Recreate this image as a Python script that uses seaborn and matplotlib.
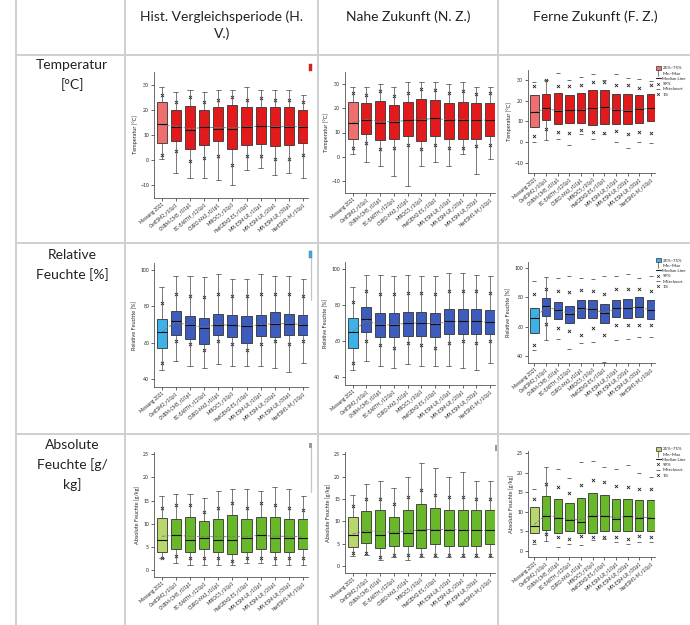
import matplotlib
matplotlib.use("Agg")
import matplotlib.pyplot as plt
import numpy as np
import seaborn as sns
from matplotlib.lines import Line2D
from matplotlib.patches import Patch, Rectangle

W, H = 690, 625

model_labels = ["Messung 2021", "CanESM2_r1i1p1", "CNRM-CM5_r1i1p1", "EC-EARTH_r12i1p1",
                "CSIRO-Mk3_r1i1p1", "MIROC5_r1i1p1", "HadGEM2-ES_r1i1p1", "MPI-ESM-LR_r1i1p1",
                "MPI-ESM-LR_r2i1p1", "MPI-ESM-LR_r3i1p1", "NorESM1-M_r1i1p1"]
period_titles = ["Hist. Vergleichsperiode (H.\nV.)", "Nahe Zukunft (N. Z.)", "Ferne Zukunft (F. Z.)"]
row_titles = ["Temperatur\n[°C]", "Relative\nFeuchte [%]", "Absolute\nFeuchte [g/\nkg]"]
y_labels = ["Temperatur [°C]", "Relative Feuchte [%]", "Absolute Feuchte [g/kg]"]
legend_labels = ["25%~75%", "Min~Max", "Median Line", "99%", "Mittelwert", "1%"]

# ---- Temperatur ----
temp_hv = dict(
    lo=[0.5, -5, -7, -7, -8, -10, -4, -3, -6, -5, -7],
    p1=[2, 3.5, -0.5, 1, 1.5, -2, 1.5, 1.5, 0.5, 0.5, 2],
    q1=[7, 7.5, 4.5, 6, 7.5, 4.5, 6, 6.5, 5.5, 6, 7],
    med=[14.5, 13, 12, 13, 12.5, 12.5, 13, 13.5, 13, 13, 13],
    mean=[14, 13.5, 12.5, 13, 13, 12.8, 13.2, 13.5, 13.3, 13.3, 13.3],
    q3=[23, 20, 21.5, 20, 21, 22, 21, 21, 21, 21, 20],
    p99=[26, 23, 25, 23, 24, 25, 24, 24.5, 24, 24, 23],
    hi=[29, 27, 28, 27, 28, 28, 29, 28, 28, 28, 26])
temp_nz = dict(
    lo=[1, -2, -4, -8, -12, -4, -2, -4, 1, -7, -1],
    p1=[3.5, 5.5, 3, 3.5, 5, 3, 5, 3.5, 3.5, 4.5, 5],
    q1=[7.5, 9.5, 7, 7.5, 8.5, 6.5, 8.5, 7.5, 7.5, 7.5, 8.5],
    med=[14, 15, 14, 14.5, 15, 15, 16, 15, 15, 15, 15],
    mean=[14, 15.5, 14.5, 14.5, 15, 15.2, 16, 15, 15.3, 15, 15.2],
    q3=[22.5, 22, 23, 21.5, 22.5, 24, 23.5, 22, 22.5, 22, 22],
    p99=[26.5, 25.5, 27, 25, 26.5, 28, 27.5, 26.5, 27, 26, 26.5],
    hi=[29, 29, 30, 29, 31, 31, 31, 30, 31, 29, 29])
temp_fz = dict(
    lo=[0, 1, 1.5, -1.5, 4, 1.5, 4, 0, -3, 0, -0.5],
    p1=[3, 6.5, 5, 4.5, 6, 5, 4.5, 5.5, 4, 5, 4.5],
    q1=[7.5, 10.5, 9, 9.5, 9.5, 8.5, 9, 9, 9, 9.5, 10],
    med=[14.5, 16.5, 15, 15.5, 15.5, 16.5, 17, 15.5, 15, 16, 16.5],
    mean=[14.5, 16.3, 15.2, 15.5, 15.6, 16.4, 16.8, 15.6, 15.3, 16, 16.3],
    q3=[23, 23.5, 24, 23, 24, 25.5, 25.5, 23.5, 23.5, 23, 23.5],
    p99=[27, 30, 27, 27, 27.5, 29, 29, 27.5, 27.5, 26.5, 27.5],
    hi=[29, 30, 33.5, 30, 31.5, 33, 30, 33, 31, 30.5, 29.5])

# ---- Relative Feuchte ----
rel_hv = dict(
    lo=[45, 50, 47, 46, 48, 47, 47, 47, 46, 44, 49],
    p1=[48.5, 61, 59, 56, 61, 59, 56, 59, 61, 59, 61],
    q1=[57, 64, 62, 59, 64, 63, 60, 63.5, 63, 64, 64],
    med=[66, 72, 69.5, 68, 70, 69.5, 69, 70, 70.5, 70.5, 70],
    mean=[66, 71.5, 69.5, 68.5, 70, 69.5, 69, 70, 70.5, 70.5, 70],
    q3=[73, 77.5, 74.5, 73.5, 76, 75, 74.5, 75.5, 77, 76, 75.5],
    p99=[82, 87, 86, 85, 87, 86, 86, 87, 87, 87, 86],
    hi=[91, 97, 97, 96, 98, 95, 95, 98, 97, 97, 95])
rel_nz = dict(
    lo=[44, 49, 46, 45, 47, 46, 46, 46, 45, 44, 48],
    p1=[48, 60, 58, 56, 59, 58, 56, 59, 60, 59, 60],
    q1=[56, 65, 62, 62, 63, 63, 62, 64, 64, 64, 64],
    med=[65, 72, 69, 69, 70, 70, 69.5, 71, 71, 71, 70.5],
    mean=[65, 71.5, 69, 69, 70, 70, 69.5, 70.8, 71, 71, 70.5],
    q3=[73, 79, 75.5, 75.5, 76, 76, 75.5, 78, 78, 78, 77],
    p99=[82, 88, 86, 86, 87, 87, 86, 88, 88, 88, 87],
    hi=[90, 97, 97, 96, 97, 96, 96, 98, 98, 97, 96])
rel_fz = dict(
    lo=[44, 51, 52, 45, 49, 50, 36.5, 51, 52, 53, 53],
    p1=[48, 62, 59, 57, 54.5, 59, 54.5, 61, 61, 61, 61],
    q1=[56, 67.5, 65.5, 62.5, 66, 66, 62.5, 66.4, 66, 67, 65.5],
    med=[66, 74, 71.6, 69, 72.5, 72, 69.5, 72.7, 73, 73.5, 71.5],
    mean=[65.5, 73.5, 71.5, 69, 72, 72, 69.5, 72.5, 72.8, 73.3, 71.5],
    q3=[72.5, 79.5, 77, 74, 78, 78.5, 75.7, 78.4, 79, 80, 78],
    p99=[82.5, 86, 84, 83.5, 85, 84, 82.5, 85.7, 86, 86, 84],
    hi=[91, 94, 93, 94.8, 93, 92.5, 94.8, 94.8, 96, 93, 94.8])

# ---- Absolute Feuchte ----
abs_hv = dict(
    lo=[2.5, 1.5, 1, 1, 1, 1, 1.5, 1.5, 1, 1, 1],
    p1=[2.5, 3, 2.5, 2.5, 2.5, 2, 2.5, 2.5, 2.5, 2.5, 2.5],
    q1=[4, 4.5, 4, 4.5, 4, 3.5, 4, 4.5, 4, 4, 4.5],
    med=[6.5, 7.5, 6.5, 7, 6.5, 6.5, 7, 7.5, 7, 7, 7],
    mean=[7.3, 7.5, 7.3, 7.2, 7.2, 7.2, 7.3, 7.5, 7.3, 7.3, 7.2],
    q3=[11.2, 11, 11.5, 10.5, 11, 12, 11, 11.5, 11.5, 11, 11],
    p99=[13.3, 14, 14, 12.5, 13.5, 14.5, 13.5, 14.5, 14, 13.5, 13],
    hi=[16, 16.5, 16.5, 15.5, 17, 17.5, 17.5, 17, 18, 17.5, 16])
abs_nz = dict(
    lo=[2.4, 2.5, 1.5, 2, 1.5, 2, 2, 2, 2, 2, 2],
    p1=[3, 3, 2, 2.5, 2.5, 2.5, 2.5, 2.5, 2.5, 2.5, 2.5],
    q1=[4.3, 5.3, 4, 4.5, 4.5, 4, 5, 4.5, 4.5, 4.5, 5],
    med=[7, 7.7, 7, 7.5, 7.5, 8, 8, 8, 8, 8, 8],
    mean=[7.2, 8, 7.7, 7.6, 7.8, 8.2, 8.2, 8.2, 8.1, 8, 8],
    q3=[11.1, 12.4, 12.5, 11, 12.5, 14, 13, 12.5, 12.5, 12.5, 12.5],
    p99=[13.5, 15, 15, 14, 15.5, 17, 16, 15.5, 15.5, 15, 15],
    hi=[16, 18.4, 19, 17.5, 20, 23, 22, 20, 21, 19, 19])
abs_fz = dict(
    lo=[1.9, 2.5, 1, 1.9, 1.5, 2.8, 3, 2.3, 1.9, 2.4, 2.4],
    p1=[2.6, 4.3, 3.5, 3.2, 3.8, 3.5, 3.6, 3.5, 3.2, 3.8, 3.6],
    q1=[4.5, 5.5, 4.7, 5, 4.5, 4.5, 5, 5, 5, 5, 5],
    med=[6.3, 9, 8.5, 8, 7.5, 9, 9, 8.3, 9, 8.5, 8.5],
    mean=[6.8, 9.3, 8.6, 8, 8, 9.2, 9, 8.5, 8.8, 8.6, 8.6],
    q3=[11.3, 14, 13.4, 12.2, 13.5, 14.7, 14.3, 13.3, 13.2, 13, 13],
    p99=[13.4, 17, 16.4, 14.7, 16.8, 18, 17.6, 16.5, 16.3, 15.8, 15.7],
    hi=[15.8, 21.5, 20.8, 18.6, 22.8, 23, 21.5, 21, 22, 20, 19])

panels = [[temp_hv, temp_nz, temp_fz], [rel_hv, rel_nz, rel_fz], [abs_hv, abs_nz, abs_fz]]
row_colors = [("#ef6f6f", "#e31a1c"), ("#3db2e8", "#3d5cbd"), ("#b7d66c", "#68b82a")]
row_ylims = [(-15, 35), (35.5, 104), (-1.5, 25.5)]
row_yticks = [[-10, 0, 10, 20, 30], [40, 60, 80, 100], [0, 5, 10, 15, 20, 25]]
fz_whisker_boxes = [1]

# panel boxes in pixels: left, top, right, bottom
panel_px = [
    [(154, 72, 308, 198), (345, 72, 495, 193), (528, 70, 655, 173)],
    [(154, 263, 308, 387), (345, 262, 495, 385), (528, 262, 655, 363)],
    [(154, 452, 308, 577), (345, 452, 495, 573), (528, 451, 655, 557)],
]
grid_x = [16, 125, 318, 498]
grid_y = [55, 243, 434]

sns.set_theme(style="ticks")
plt.rcParams["font.family"] = ["Lato", "DejaVu Sans"]

fig = plt.figure(figsize=(W / 100, H / 100), dpi=100)
fig.patch.set_facecolor("white")


def px_axes(box):
    l, t, r, b = box
    return fig.add_axes([l / W, 1 - b / H, (r - l) / W, (b - t) / H])


def px_rect(x, y, w, h, **kw):
    fig.add_artist(Rectangle((x / W, 1 - (y + h) / H), w / W, h / H, transform=fig.transFigure, **kw))


def px_vline(x, y0, y1, **kw):
    fig.add_artist(Line2D([x / W, x / W], [1 - y0 / H, 1 - y1 / H], **kw))


def draw_panel(ax, d, colors, ylim, yticks, ylabel, far):
    n = len(d["med"])
    pos = np.arange(n)
    stats = []
    for i in range(n):
        with_w = (not far) or (i in fz_whisker_boxes)
        stats.append(dict(q1=d["q1"][i], med=d["med"][i], q3=d["q3"][i],
                          whislo=d["lo"][i] if with_w else d["q1"][i],
                          whishi=d["hi"][i] if with_w else d["q3"][i], fliers=[]))
    bp = ax.bxp(stats, positions=pos, widths=0.72, patch_artist=True, showfliers=False,
                boxprops=dict(linewidth=0.6, edgecolor="#333333"),
                medianprops=dict(color="#111111", linewidth=0.8),
                whiskerprops=dict(color="#444444", linewidth=0.5),
                capprops=dict(color="#444444", linewidth=0.5))
    for i, patch in enumerate(bp["boxes"]):
        patch.set_facecolor(colors[0] if i == 0 else colors[1])
    # mean connection line
    sns.lineplot(x=pos, y=d["mean"], ax=ax, color="#777777", linestyle="--", linewidth=0.6)
    sns.scatterplot(x=pos, y=d["mean"], ax=ax, marker="s", color="#222222", s=4, linewidth=0)
    sns.scatterplot(x=pos, y=d["p99"], ax=ax, marker="x", color="#222222", s=5, linewidth=0.6)
    sns.scatterplot(x=pos, y=d["p1"], ax=ax, marker="x", color="#222222", s=5, linewidth=0.6)
    if far:
        idx = [i for i in range(n) if i not in fz_whisker_boxes]
        sns.scatterplot(x=pos[idx], y=np.array(d["hi"])[idx], ax=ax, marker="_", color="#555555", s=6, linewidth=0.6)
        sns.scatterplot(x=pos[idx], y=np.array(d["lo"])[idx], ax=ax, marker="_", color="#555555", s=6, linewidth=0.6)
    ax.set_xlim(-0.55, n - 0.65)
    ax.set_ylim(*ylim)
    ax.set_yticks(yticks)
    ax.set_xticks(pos)
    ax.set_xticklabels(model_labels, rotation=40, ha="right", rotation_mode="anchor", fontsize=3.3)
    ax.tick_params(axis="y", labelsize=3.7, length=2, width=0.5, pad=1.5)
    ax.tick_params(axis="x", length=2, width=0.5, pad=1)
    ax.set_xlabel("")
    ax.set_ylabel(ylabel, fontsize=4, labelpad=2)
    for s in ["left", "bottom"]:
        ax.spines[s].set_linewidth(0.6)
        ax.spines[s].set_color("#555555")
    sns.despine(ax=ax)
    ax.set_facecolor("white")


for r in range(3):
    for c in range(3):
        ax = px_axes(panel_px[r][c])
        draw_panel(ax, panels[r][c], row_colors[r], row_ylims[r], row_yticks[r], y_labels[r], c == 2)
        if c == 2:
            handles = [
                Patch(facecolor=row_colors[r][0], edgecolor="#333333", linewidth=0.5),
                Line2D([], [], color="#444444", marker="|", linestyle="none", markersize=4, markeredgewidth=0.5),
                Line2D([], [], color="#222222", linewidth=0.8),
                Line2D([], [], color="#222222", marker="x", linestyle="none", markersize=2, markeredgewidth=0.5),
                Line2D([], [], color="#555555", marker="_", linestyle="none", markersize=3, markeredgewidth=0.6),
                Line2D([], [], color="#222222", marker="x", linestyle="none", markersize=2, markeredgewidth=0.5),
            ]
            ax.legend(handles, legend_labels, loc="upper left", bbox_to_anchor=(0.99, 1.06),
                      frameon=False, fontsize=3.2, handlelength=1.1, handleheight=0.9,
                      labelspacing=0.2, borderaxespad=0.1, handletextpad=0.35)

# remnants of cut-off legends at the top right of the left and middle panels
px_rect(309, 64, 3, 7, facecolor=row_colors[0][1], edgecolor="#aa3333", linewidth=0.3)
px_rect(309, 251, 3, 7, facecolor=row_colors[1][0], edgecolor="#336688", linewidth=0.3)
px_vline(310.5, 258, 300, color="#c4c4c4", linewidth=0.9)
px_rect(309, 443, 3, 5, facecolor="#999999", edgecolor="none")
px_vline(310.5, 448, 492, color="#c4c4c4", linewidth=0.9)
px_rect(495, 445, 1.5, 6, facecolor="#999999", edgecolor="none")

# table grid
for x in grid_x:
    fig.add_artist(Line2D([x / W, x / W], [0, 1], color="#cfcfcf", linewidth=1.4))
for y in grid_y:
    fig.add_artist(Line2D([grid_x[0] / W, 1], [1 - y / H, 1 - y / H], color="#cfcfcf", linewidth=1.4))

# headers
header_x = [222, 408, 595]
for x, t in zip(header_x, period_titles):
    fig.text(x / W, 1 - 10 / H, t, ha="center", va="top", fontsize=10, linespacing=1.45, color="#222222")
row_title_y = [59, 249, 439]
for y, t in zip(row_title_y, row_titles):
    fig.text(72 / W, 1 - y / H, t, ha="center", va="top", fontsize=10, linespacing=1.65, color="#222222")

fig.savefig("out.png", dpi=100)
